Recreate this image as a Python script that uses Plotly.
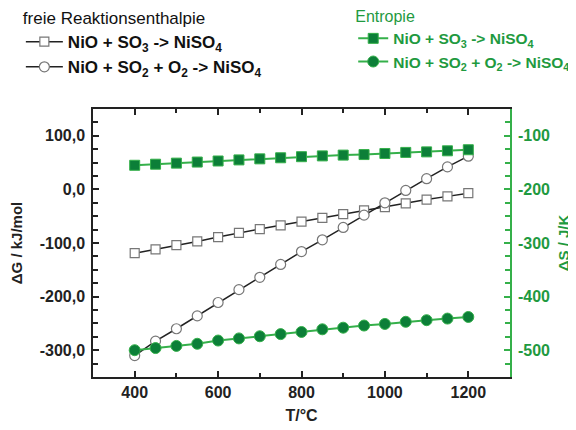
import plotly.graph_objects as go

T = [400, 450, 500, 550, 600, 650, 700, 750, 800, 850, 900, 950, 1000, 1050, 1100, 1150, 1200]

dG_SO3 = [-119, -112, -104, -97, -89, -81, -74, -67, -60, -53, -46, -39, -33, -26, -19, -13, -7]
dG_SO2 = [-310, -283, -260, -236, -211, -187, -164, -140, -116, -94, -71, -48, -25, -2, 20, 42, 62]
dS_SO3 = [-155, -153, -151, -149, -147, -145, -143, -141, -139, -137.5, -136, -135, -133, -131, -130, -128, -126]
dS_SO2 = [-500, -496, -492, -488, -482, -478, -474, -470, -466, -461, -458, -454, -451, -447, -444, -441, -438]

names = ["NiO + SO<sub>3</sub> -> NiSO<sub>4</sub>",
         "NiO + SO<sub>2</sub> + O<sub>2</sub> -> NiSO<sub>4</sub>"]

left_tickvals = [100, 0, -100, -200, -300]
left_ticktext = ["100,0", "0,0", "-100,0", "-200,0", "-300,0"]
right_tickvals = [-100, -200, -300, -400, -500]
right_ticktext = ["-100", "-200", "-300", "-400", "-500"]
x_tickvals = [400, 600, 800, 1000, 1200]
x_ticktext = ["400", "600", "800", "1000", "1200"]

FONT = "Liberation Sans, Arial, sans-serif"
GREEN_LINE = "#35b04a"
GREEN_MARK = "#0c7f38"
GREEN_TEXT = "#1f9a3f"

fig = go.Figure()
fig.add_trace(go.Scatter(x=T, y=dG_SO3, name=names[0], mode="lines+markers",
                         line=dict(color="#222222", width=1.5),
                         marker=dict(symbol="square", size=9, color="white",
                                     line=dict(color="#777777", width=1.2)),
                         legend="legend"))
fig.add_trace(go.Scatter(x=T, y=dG_SO2, name=names[1], mode="lines+markers",
                         line=dict(color="#222222", width=1.5),
                         marker=dict(symbol="circle", size=10, color="white",
                                     line=dict(color="#777777", width=1.2)),
                         legend="legend"))
fig.add_trace(go.Scatter(x=T, y=dS_SO3, name=names[0], mode="lines+markers", yaxis="y2",
                         line=dict(color=GREEN_LINE, width=2),
                         marker=dict(symbol="square", size=10, color=GREEN_MARK,
                                     line=dict(color=GREEN_LINE, width=1)),
                         legend="legend2"))
fig.add_trace(go.Scatter(x=T, y=dS_SO2, name=names[1], mode="lines+markers", yaxis="y2",
                         line=dict(color=GREEN_LINE, width=2),
                         marker=dict(symbol="circle", size=11, color=GREEN_MARK,
                                     line=dict(color=GREEN_LINE, width=1)),
                         legend="legend2"))

fig.update_layout(
    width=568, height=422,
    margin=dict(l=85, r=66, t=101, b=53, autoexpand=False),
    plot_bgcolor="white", paper_bgcolor="white",
    font=dict(family=FONT, color="black"),
    showlegend=True,
    xaxis=dict(range=[300, 1300], tickmode="array", tickvals=x_tickvals, ticktext=x_ticktext,
               ticks="inside", ticklen=6, tickwidth=1.5, tickcolor="#222",
               minor=dict(dtick=100, tick0=0, ticks="inside", ticklen=4, tickwidth=1.5, tickcolor="#222"),
               showline=True, linecolor="#222", linewidth=1.5, mirror="ticks",
               showgrid=False, zeroline=False, automargin=False,
               tickfont=dict(size=16, weight="bold", color="#222"),
               title=dict(text="T/°C", font=dict(size=16, weight="bold", color="#222"), standoff=10)),
    yaxis=dict(range=[-350, 150], tickmode="array", tickvals=left_tickvals, ticktext=left_ticktext,
               ticks="inside", ticklen=6, tickwidth=1.5, tickcolor="#222",
               minor=dict(dtick=25, tick0=0, ticks="inside", ticklen=5, tickwidth=1.5, tickcolor="#222"),
               showline=True, linecolor="#222", linewidth=1.5, mirror=False,
               showgrid=False, zeroline=False, ticklabelstandoff=3, automargin=False,
               tickfont=dict(size=16, weight="bold", color="#222"),
               title=dict(text="ΔG / kJ/mol", font=dict(size=15, weight="bold", color="#222"), standoff=14)),
    yaxis2=dict(range=[-550, -50], overlaying="y", side="right", tickmode="array",
                tickvals=right_tickvals, ticktext=right_ticktext,
                ticks="inside", ticklen=6, tickwidth=1.5, tickcolor=GREEN_LINE,
                minor=dict(dtick=25, tick0=0, ticks="inside", ticklen=5, tickwidth=1.5, tickcolor=GREEN_LINE),
                showline=True, linecolor=GREEN_LINE, linewidth=1.5,
                showgrid=False, zeroline=False, ticklabelstandoff=3, automargin=False,
                tickfont=dict(size=16, weight="bold", color=GREEN_TEXT),
                title=dict(text="ΔS / J/K", font=dict(size=15, weight="bold", color=GREEN_TEXT), standoff=9)),
    legend=dict(x=-0.173, y=1.399, xanchor="left", yanchor="top", bgcolor="rgba(0,0,0,0)",
                itemwidth=37,
                font=dict(size=17, weight="bold", color="#111"),
                title=dict(text="freie Reaktionsenthalpie", side="top",
                           font=dict(size=17, weight="normal", color="#111"))),
    legend2=dict(x=0.624, y=1.403, xanchor="left", yanchor="top", bgcolor="rgba(0,0,0,0)",
                 font=dict(size=15.5, weight="bold", color=GREEN_TEXT),
                 title=dict(text="Entropie", side="top",
                            font=dict(size=16, weight="normal", color=GREEN_TEXT))),
)

fig.write_html("out.html")
